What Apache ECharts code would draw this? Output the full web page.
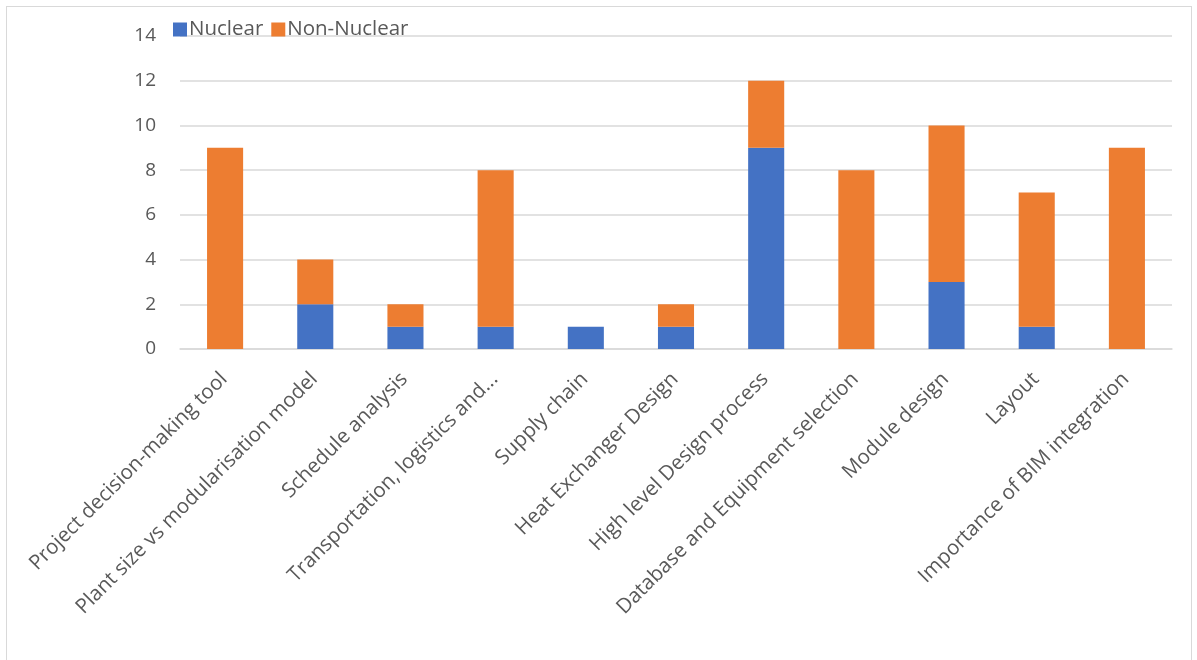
<!DOCTYPE html>
<html><head><meta charset="utf-8">
<script src="https://cdn.jsdelivr.net/npm/echarts@6/dist/echarts.min.js"></script>
<style>
html,body{margin:0;padding:0;background:#fff;}
#wrap{position:absolute;left:6px;top:6px;width:1186px;height:660px;border:1px solid #d9d9d9;box-sizing:border-box;}
#c{position:absolute;left:0;top:0;width:1197px;height:660px;}
</style></head>
<body>
<div id="wrap"></div>
<div id="c"></div>
<script>
const categories = ["Project decision-making tool","Plant size vs modularisation model","Schedule analysis","Transportation, logistics and...","Supply chain","Heat Exchanger Design","High level Design process","Database and Equipment selection","Module design","Layout","Importance of BIM integration"];
const nuclear = [0,2,1,1,1,1,9,0,3,1,0];
const nonNuclear = [9,2,1,7,0,1,3,8,7,6,9];
const yTicks = [0,2,4,6,8,10,12,14];

const font = "Open Sans";
const chart = echarts.init(document.getElementById('c'), null, {renderer:'canvas'});
chart.setOption({
  animation:false,
  textStyle:{fontFamily:font},
  legend:{
    left:168, top:14, itemWidth:14, itemHeight:14, itemGap:8, icon:'rect',
    textStyle:{fontSize:20.5, color:'#595959', fontFamily:font, padding:[0,0,0,-3]},
    data:['Nuclear','Non-Nuclear']
  },
  grid:{left:180, right:25, top:36, bottom:311, containLabel:false},
  xAxis:{
    type:'category', data:categories,
    axisLine:{lineStyle:{color:'#d9d9d9', width:1.5}},
    axisTick:{show:false},
    axisLabel:{rotate:45, interval:0, fontSize:20.5, color:'#595959', fontFamily:font, margin:11,
      verticalAlign:'top', padding:[0,12,0,0]}
  },
  yAxis:{
    type:'value', min:0, max:14, interval:2,
    axisLine:{show:false}, axisTick:{show:false},
    splitLine:{lineStyle:{color:'#d9d9d9', width:1.5}},
    axisLabel:{fontSize:19, color:'#595959', fontFamily:font, margin:24,
      formatter:v=> yTicks.includes(v)? String(v):''}
  },
  series:[
    {name:'Nuclear', type:'bar', stack:'a', data:nuclear, barWidth:'40%',
     itemStyle:{color:'#4472C4'}},
    {name:'Non-Nuclear', type:'bar', stack:'a', data:nonNuclear, barWidth:'40%',
     itemStyle:{color:'#ED7D31'}}
  ]
});
</script>
</body></html>
